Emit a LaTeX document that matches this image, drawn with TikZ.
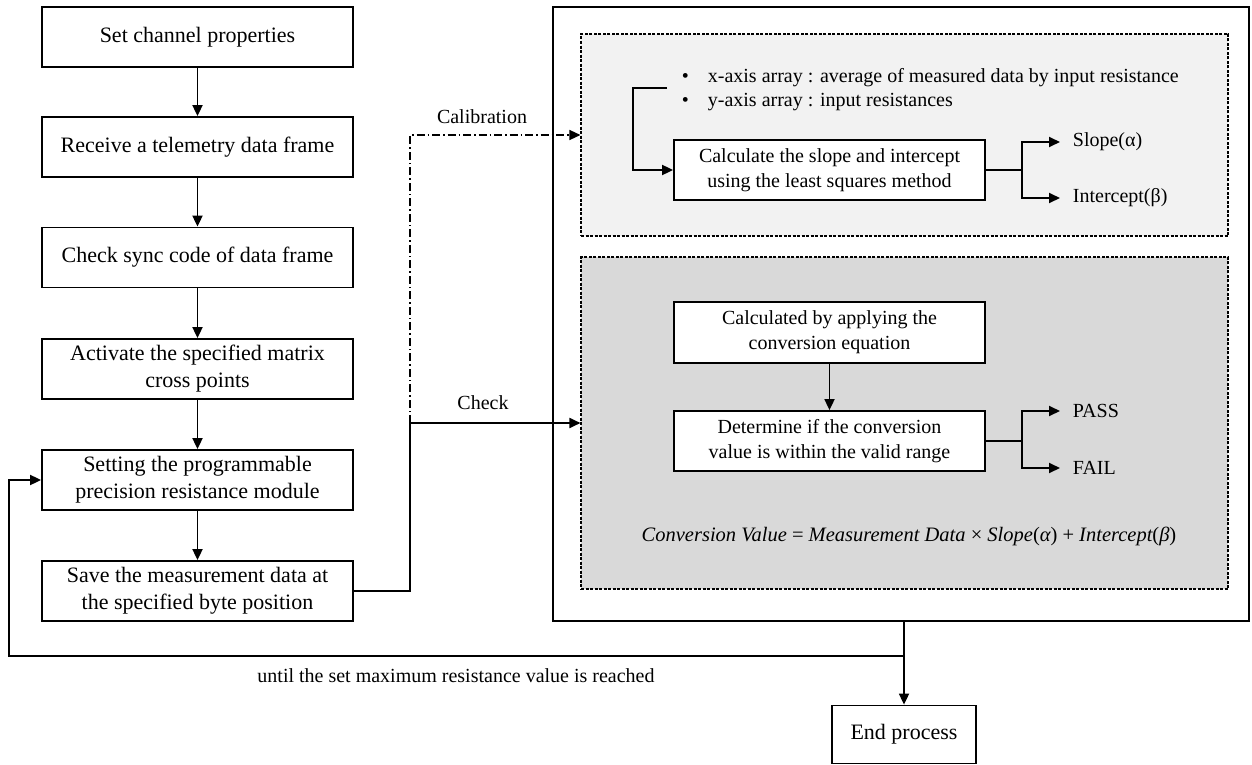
\documentclass[tikz,border=0pt]{standalone}
\usepackage{fontspec}
\setmainfont{Liberation Serif}
\usetikzlibrary{arrows.meta}
\begin{document}
\begin{tikzpicture}[x=1pt,y=-1pt,
  line width=1.8pt,
  arr/.style={-{Triangle[length=11pt,width=10pt]}},
  lbox/.style={draw, fill=white, minimum width=311pt, minimum height=60pt, inner sep=0pt, align=center, font=\fontsize{22}{27}\selectfont},
  ibox/.style={draw, fill=white, minimum width=311pt, minimum height=60pt, inner sep=0pt, align=center, font=\fontsize{20}{25}\selectfont},
  grp/.style={draw, line width=1.1pt, dash pattern=on 3pt off 1.5pt, minimum width=647pt, inner sep=0pt},
  lbl/.style={font=\fontsize{20}{24}\selectfont, inner sep=0pt},
  dashdot/.style={dash pattern=on 8pt off 3pt on 1.5pt off 3pt, line width=1.4pt}
]
\useasboundingbox (0,0) rectangle (1252,765);

% outer box
\node[draw, minimum width=696pt, minimum height=614pt, inner sep=0pt] (big) at (901,314) {};
% group boxes
\node[grp, fill=black!5, minimum height=202pt] (top) at (904.5,135) {};
\node[grp, fill=black!15, minimum height=332pt] (bot) at (904.5,423) {};

% left column
\node[lbox] (b1) at (197.5,37) {Set channel properties};
\node[lbox] (b2) at (197.5,147) {Receive a telemetry data frame};
\node[lbox] (b3) at (197.5,257.5) {Check sync code of data frame};
\node[lbox] (b4) at (197.5,369) {Activate the specified matrix\\cross points};
\node[lbox] (b5) at (197.5,480) {Setting the programmable\\precision resistance module};
\node[lbox] (b6) at (197.5,591) {Save the measurement data at\\the specified byte position};

\draw[arr] (b1) -- (b2);
\draw[arr] (b2) -- (b3);
\draw[arr] (b3) -- (b4);
\draw[arr] (b4) -- (b5);
\draw[arr] (b5) -- (b6);

% calibration group content
\node[lbl, anchor=west, align=left] (bul) at (681,89.5)
  {\makebox[26pt][l]{•}x-axis array : average of measured data by input resistance\\
   \makebox[26pt][l]{•}y-axis array : input resistances};
\node[ibox] (calc) at (829.5,170) {Calculate the slope and intercept\\using the least squares method};
\coordinate (brk) at (667,88);
\draw[arr] (brk) -- ++(-34,0) |- (calc.west);
\node[lbl, anchor=west] (slope) at (1072,142) {Slope(α)};
\node[lbl, anchor=west] (icpt) at (1072,198) {Intercept(β)};
\coordinate (j1) at (1022,170);
\draw (calc.east) -- (j1);
\draw[arr] (j1) |- ([xshift=-12pt]slope.west);
\draw[arr] (j1) |- ([xshift=-12pt]icpt.west);

% check group content
\node[ibox, minimum height=61pt] (conv) at (829.5,332.5) {Calculated by applying the\\conversion equation};
\node[ibox] (det) at (829.5,441) {Determine if the conversion\\value is within the valid range};
\draw[arr] (conv) -- (det);
\node[lbl, anchor=west] (pass) at (1072,411) {PASS};
\node[lbl, anchor=west] (fail) at (1072,468) {FAIL};
\coordinate (j2) at (1022,441);
\draw (det.east) -- (j2);
\draw[arr] (j2) |- ([xshift=-12pt]pass.west);
\draw[arr] (j2) |- ([xshift=-12pt]fail.west);
\node[lbl, font=\fontsize{20.5}{24}\selectfont] (eq) at (909,536) {\itshape Conversion Value \upshape = \itshape Measurement Data \upshape × \itshape Slope\upshape(\itshape α\upshape) + \itshape Intercept\upshape(\itshape β\upshape)};

% connections from left column
\coordinate (chk) at (410,423);
\draw[arr] (b6.east) -| (chk) -- (bot.west);
\draw[arr, dashdot] (chk) |- (top.west);
\node[lbl] (lcal) at (482,117) {Calibration};
\node[lbl] (lchk) at (483,403) {Check};

% end process and loop
\node[draw, minimum width=144pt, minimum height=58pt, inner sep=0pt, font=\fontsize{22}{27}\selectfont] (endb) at (904,734.5) {End process};
\coordinate (lj) at (904,656);
\coordinate (ll) at (9,656);
\draw[arr] (big.south -| endb.north) -- (endb.north);
\draw[arr] (lj) -- (ll) |- (b5.west);
\node[lbl] (until) at (456,676) {until the set maximum resistance value is reached};
\end{tikzpicture}
\end{document}
